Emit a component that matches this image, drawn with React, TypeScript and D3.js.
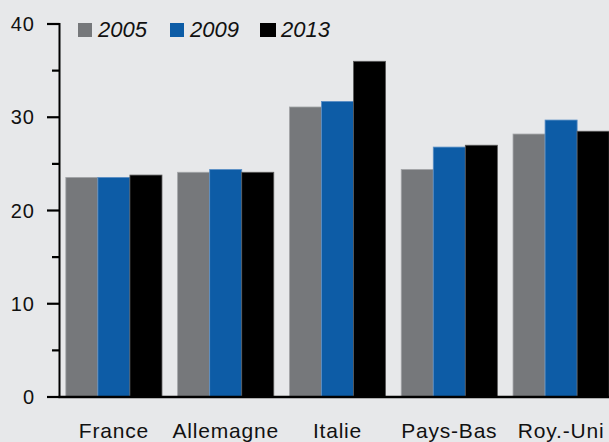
import * as d3 from "d3";

const countries = ["France", "Allemagne", "Italie", "Pays-Bas", "Roy.-Uni"];
const years = ["2005", "2009", "2013"];
const v2005 = [23.55, 24.1, 31.1, 24.4, 28.2];
const v2009 = [23.55, 24.4, 31.7, 26.8, 29.7];
const v2013 = [23.8, 24.1, 36.0, 27.0, 28.5];
const yTicks = [0, 10, 20, 30, 40];
const yMinor = [5, 15, 25, 35];

const fills = ["#76787b", "#0d5ca6", "#000000"];
const edges = ["#a3a5a8", "#5b8fc6", "#5a5a5a"];

function App() {
  const width = 609;
  const height = 442;
  const x0 = 59.5;
  const series = [v2005, v2009, v2013];

  const xScale = d3
    .scaleBand()
    .domain(countries)
    .range([58, 617])
    .paddingInner(0.14)
    .paddingOuter(0.07);
  const inner = d3
    .scaleBand()
    .domain(years)
    .range([0, xScale.bandwidth()]);
  const yScale = d3.scaleLinear().domain([0, 40]).range([397, 24]);

  const font = "'Liberation Sans', Arial, sans-serif";

  return (
    <svg
      width={width}
      height={height}
      style={{ position: "absolute", left: 0, top: 0 }}
    >
      <rect x={0} y={0} width={width} height={height} fill="#e7e8ea" />

      {countries.map((c, i) =>
        years.map((yr, k) => {
          const v = series[k][i];
          return (
            <rect
              key={c + yr}
              x={(xScale(c) ?? 0) + (inner(yr) ?? 0)}
              y={yScale(v)}
              width={inner.bandwidth()}
              height={yScale(0) - yScale(v)}
              fill={fills[k]}
              stroke={edges[k]}
              strokeWidth={0.8}
            />
          );
        })
      )}

      {/* axe vertical */}
      <line x1={x0} x2={x0} y1={yScale(40) - 1} y2={yScale(0)} stroke="#000" strokeWidth={2} />
      {yTicks.map((t) => (
        <g key={t} transform={`translate(0, ${yScale(t)})`}>
          <line x1={47} x2={x0} stroke="#000" strokeWidth={2.2} />
          <text
            x={35}
            textAnchor="end"
            dominantBaseline="central"
            fontFamily={font}
            fontSize={20}
            letterSpacing={1}
            fill="#111"
          >
            {t}
          </text>
        </g>
      ))}
      {yMinor.map((t) => (
        <line
          key={t}
          x1={52}
          x2={x0}
          y1={yScale(t)}
          y2={yScale(t)}
          stroke="#000"
          strokeWidth={2.2}
        />
      ))}

      {/* axe horizontal */}
      <line x1={x0 - 1} x2={width} y1={yScale(0)} y2={yScale(0)} stroke="#000" strokeWidth={2.6} />
      {countries.map((c) => (
        <text
          key={c}
          x={(xScale(c) ?? 0) + xScale.bandwidth() / 2}
          y={438}
          textAnchor="middle"
          fontFamily={font}
          fontSize={21}
          letterSpacing={0.8}
          fill="#111"
        >
          {c}
        </text>
      ))}

      {/* légende */}
      {years.map((yr, k) => {
        const lx = [78, 170, 260][k];
        return (
          <g key={yr}>
            <rect x={lx} y={23} width={k === 2 ? 16 : 14} height={14} fill={fills[k]} />
            <text
              x={lx + (k === 2 ? 21 : 20)}
              y={36.5}
              fontFamily={font}
              fontSize={22}
              fontStyle="italic"
              fill="#111"
            >
              {yr}
            </text>
          </g>
        );
      })}
    </svg>
  );
}

export default App;
